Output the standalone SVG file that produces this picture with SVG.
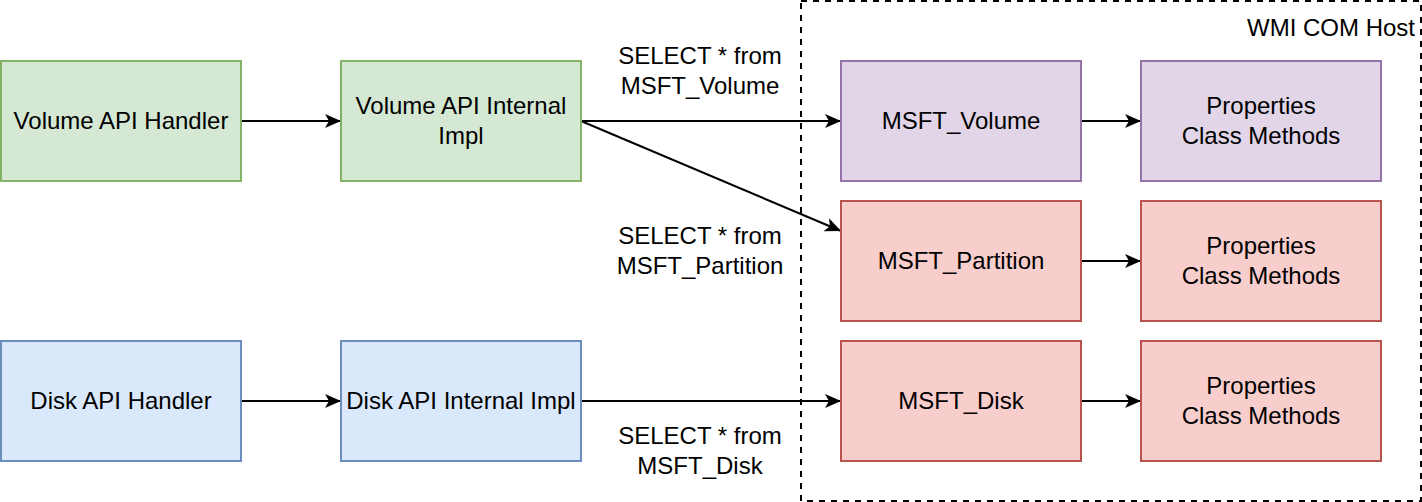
<svg xmlns="http://www.w3.org/2000/svg" width="1422" height="502" viewBox="0 0 1422 502">
<style>
text{font-family:"Liberation Sans",Arial,Helvetica,sans-serif;font-size:24px;fill:#000;text-anchor:middle}
.g{fill:#d5e8d4;stroke:#82b366;stroke-width:2}
.p{fill:#e1d5e7;stroke:#9673a6;stroke-width:2}
.r{fill:#f8cecc;stroke:#b85450;stroke-width:2}
.b{fill:#dae8fc;stroke:#6c8ebf;stroke-width:2}
.e{fill:none;stroke:#000;stroke-width:2;marker-end:url(#a)}
</style>
<defs>
<marker id="a" markerUnits="userSpaceOnUse" markerWidth="18" markerHeight="16" refX="17" refY="8" orient="auto" viewBox="0 0 18 16">
<path d="M1,1 L17,8 L1,15 L5,8 Z" fill="#000"/>
</marker>
</defs>
<g id="wmi-host">
<rect x="801" y="1" width="620" height="500" fill="none" stroke="#000" stroke-width="2" stroke-dasharray="6,6"/>
<text x="1415" y="36" style="text-anchor:end">WMI COM Host</text>
</g>
<g id="connectors">
<line class="e" x1="241" y1="121" x2="341" y2="121"/>
<line class="e" x1="581" y1="121" x2="841" y2="121"/>
<line class="e" x1="581" y1="121" x2="841" y2="231"/>
<line class="e" x1="1081" y1="121" x2="1141" y2="121"/>
<line class="e" x1="1081" y1="261" x2="1141" y2="261"/>
<line class="e" x1="241" y1="401" x2="341" y2="401"/>
<line class="e" x1="581" y1="401" x2="841" y2="401"/>
<line class="e" x1="1081" y1="401" x2="1141" y2="401"/>
</g>
<g id="labels">
<text x="700" y="64">SELECT * from</text>
<text x="700" y="94">MSFT_Volume</text>
<text x="700" y="244">SELECT * from</text>
<text x="700" y="274">MSFT_Partition</text>
<text x="700" y="444">SELECT * from</text>
<text x="700" y="474">MSFT_Disk</text>
</g>
<g id="volume-api-handler">
<rect class="g" x="1" y="61" width="240" height="120"/>
<text x="121" y="129">Volume API Handler</text>
</g>
<g id="volume-api-internal-impl">
<rect class="g" x="341" y="61" width="240" height="120"/>
<text x="461" y="114">Volume API Internal</text>
<text x="461" y="144">Impl</text>
</g>
<g id="msft-volume">
<rect class="p" x="841" y="61" width="240" height="120"/>
<text x="961" y="129">MSFT_Volume</text>
</g>
<g id="volume-props">
<rect class="p" x="1141" y="61" width="240" height="120"/>
<text x="1261" y="114">Properties</text>
<text x="1261" y="144">Class Methods</text>
</g>
<g id="msft-partition">
<rect class="r" x="841" y="201" width="240" height="120"/>
<text x="961" y="269">MSFT_Partition</text>
</g>
<g id="partition-props">
<rect class="r" x="1141" y="201" width="240" height="120"/>
<text x="1261" y="254">Properties</text>
<text x="1261" y="284">Class Methods</text>
</g>
<g id="disk-api-handler">
<rect class="b" x="1" y="341" width="240" height="120"/>
<text x="121" y="409">Disk API Handler</text>
</g>
<g id="disk-api-internal-impl">
<rect class="b" x="341" y="341" width="240" height="120"/>
<text x="461" y="409">Disk API Internal Impl</text>
</g>
<g id="msft-disk">
<rect class="r" x="841" y="341" width="240" height="120"/>
<text x="961" y="409">MSFT_Disk</text>
</g>
<g id="disk-props">
<rect class="r" x="1141" y="341" width="240" height="120"/>
<text x="1261" y="394">Properties</text>
<text x="1261" y="424">Class Methods</text>
</g>
</svg>
